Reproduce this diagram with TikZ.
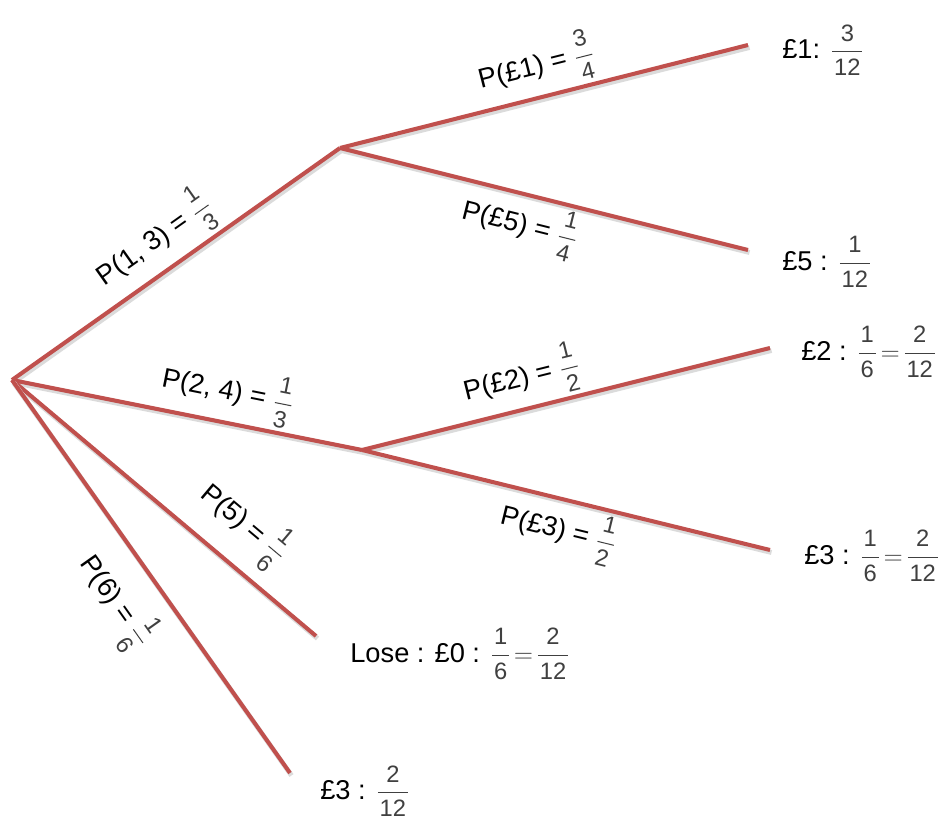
\documentclass[tikz,border=0pt]{standalone}
\usepackage{amsmath}
\usepackage{fontspec}
\setmainfont{Liberation Sans}
\usetikzlibrary{positioning}
\definecolor{brRed}{HTML}{C0504D}
\definecolor{brInk}{HTML}{404040}
\newcommand{\fd}[1]{\text{\fontsize{13.5}{15}\selectfont\kern1pt#1\kern1pt}}
\newcommand{\fr}[2]{{\dfrac{\fd{#1}}{\fd{#2}}}}
\newcommand{\pf}[2]{{\color{brInk}$\fr{#1}{#2}$}}
\newcommand{\pq}[4]{{\color{brInk}$\fr{#1}{#2}\mkern2mu{=}\mkern2mu\fr{#3}{#4}$}}

\begin{document}
\begin{tikzpicture}[x=0.02cm,y=-0.02cm,
      font=\fontsize{15.5}{18}\selectfont,
      br/.style={draw=brRed,line width=2.3pt,
                 preaction={draw=black!14,line width=2.8pt,
                            transform canvas={shift={(1.5,2.5)}}}},
      lbl/.style={sloped,inner sep=2pt},
      leaf/.style={anchor=west,inner sep=0pt}]

    \useasboundingbox (0,0) rectangle (941,820);

    % branch points and line ends
    \coordinate (root) at (12,380);
    \coordinate (odd)  at (340,148);
    \coordinate (even) at (362,450);
    \coordinate (t1) at (748,45);
    \coordinate (t5) at (748,250);
    \coordinate (t2) at (770,348);
    \coordinate (t3) at (770,550);
    \coordinate (t0) at (316,636);
    \coordinate (t6) at (290,773);

    % outcomes
    \node[leaf] (w1) at (782,50)  {£1: \pf{3}{12}};
    \node[leaf] (w5) at (782,262) {£5 : \pf{1}{12}};
    \node[leaf] (w2) at (801,352) {£2 : \pq{1}{6}{2}{12}};
    \node[leaf] (w3) at (804,556) {£3 : \pq{1}{6}{2}{12}};
    \node[leaf] (w0) at (350,654) {Lose : £0 : \pq{1}{6}{2}{12}};
    \node[leaf] (w6) at (320,791) {£3 : \pf{2}{12}};

    \foreach \a/\b/\p/\s/\o/\t in {
        root/odd/.49/above/0/{P(1, 3) = \pf{1}{3}},
        odd/t1/.5/above/0/{P(£1) = \pf{3}{4}},
        odd/t5/.46/below/0/{P(£5) = \pf{1}{4}},
        root/even/.6/above/0/{P(2, 4) = \pf{1}{3}},
        even/t2/.41/above/0/{P(£2) = \pf{1}{2}},
        even/t3/.5/below/0/{P(£3) = \pf{1}{2}},
        root/t0/.68/above/5/{P(5) = \pf{1}{6}},
        root/t6/.5/below/7/{P(6) = \pf{1}{6}}}
      \draw[br] (\a) -- node[lbl,\s=\o pt,pos=\p] {\t} (\b);
  \end{tikzpicture}
\end{document}
